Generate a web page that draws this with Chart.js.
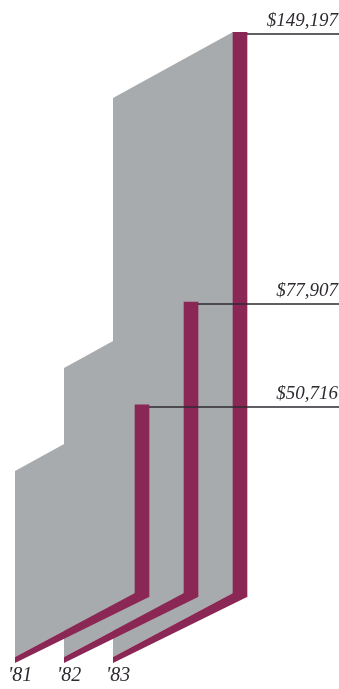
<!DOCTYPE html>
<html>
<head>
<meta charset="utf-8">
<script src="https://cdn.jsdelivr.net/npm/chart.js@4.4.0/dist/chart.umd.min.js"></script>
<style>
  html, body { margin: 0; padding: 0; background: #fff; }
  #wrap { width: 339px; height: 689px; }
</style>
</head>
<body>
<div id="wrap"><canvas id="salesChart" width="339" height="689"></canvas></div>
<script>
// Data
const years = ["'81", "'82", "'83"];
const amounts = [50716, 77907, 149197];

// Colours
const faceColor = '#8b2754';
const sideColor = '#a8abad';
const inkColor = '#2e2a30';

// depth of the extruded side (pixels)
const depthX = -120;
const depthTop = 66;
const depthBottom = 64;

// Draws the grey side and the bottom strip of each bar, back to front
const extrudePlugin = {
    id: 'extrude',
    beforeDatasetsDraw(chart) {
        const ctx = chart.ctx;
        const bars = chart.getDatasetMeta(0).data;
        const base = chart.scales.y.getPixelForValue(0);
        ctx.save();
        for (let i = bars.length - 1; i >= 0; i--) {
            const bar = bars[i];
            const x = bar.x - bar.width / 2;
            const r = bar.x + bar.width / 2;
            const top = bar.y;
            const innerBase = base - 4;

            // grey side
            ctx.fillStyle = sideColor;
            ctx.beginPath();
            ctx.moveTo(x, top);
            ctx.lineTo(x + depthX, top + depthTop);
            ctx.lineTo(x + depthX, innerBase + depthBottom);
            ctx.lineTo(x, innerBase);
            ctx.closePath();
            ctx.fill();

            // bottom strip
            ctx.fillStyle = faceColor;
            ctx.beginPath();
            ctx.moveTo(x, innerBase);
            ctx.lineTo(r, innerBase);
            ctx.lineTo(r, base);
            ctx.lineTo(x + depthX, base + depthBottom + 2);
            ctx.lineTo(x + depthX, innerBase + depthBottom);
            ctx.closePath();
            ctx.fill();
        }
        ctx.restore();
    },
    afterDatasetsDraw(chart) {
        const ctx = chart.ctx;
        const bars = chart.getDatasetMeta(0).data;
        const base = chart.scales.y.getPixelForValue(0);
        ctx.save();
        for (let i = 0; i < bars.length; i++) {
            const bar = bars[i];
            const x = bar.x - bar.width / 2;
            const r = bar.x + bar.width / 2;
            const y = bar.y + 2;

            // leader line
            ctx.strokeStyle = inkColor;
            ctx.lineWidth = 1.5;
            ctx.beginPath();
            ctx.moveTo(r, y);
            ctx.lineTo(chart.width, y);
            ctx.stroke();

            // value label
            ctx.fillStyle = inkColor;
            ctx.font = 'italic 19px "Liberation Serif", "DejaVu Serif", serif';
            ctx.textAlign = 'right';
            ctx.textBaseline = 'alphabetic';
            ctx.fillText('$' + amounts[i].toLocaleString('en-US'), chart.width - 1, bar.y - 6);

            // year label under the side face
            ctx.font = 'italic 20px "Liberation Serif", "DejaVu Serif", serif';
            ctx.textAlign = 'left';
            ctx.fillText(years[i], x + depthX - 7, base + 84);
        }
        ctx.restore();
    }
};

const chart = new Chart(document.getElementById('salesChart').getContext('2d'), {
    type: 'bar',
    data: {
        labels: years,
        datasets: [{
            data: amounts,
            backgroundColor: faceColor,
            borderWidth: 0,
            barThickness: 14
        }]
    },
    options: {
        responsive: false,
        animation: false,
        layout: {
            padding: { left: 117.5, right: 74.5, top: 32, bottom: 92 }
        },
        scales: {
            x: { display: false },
            y: { display: false, min: 0, max: Math.max(...amounts) }
        },
        plugins: {
            legend: { display: false },
            tooltip: { enabled: false }
        }
    },
    plugins: [extrudePlugin]
});
</script>
</body>
</html>
